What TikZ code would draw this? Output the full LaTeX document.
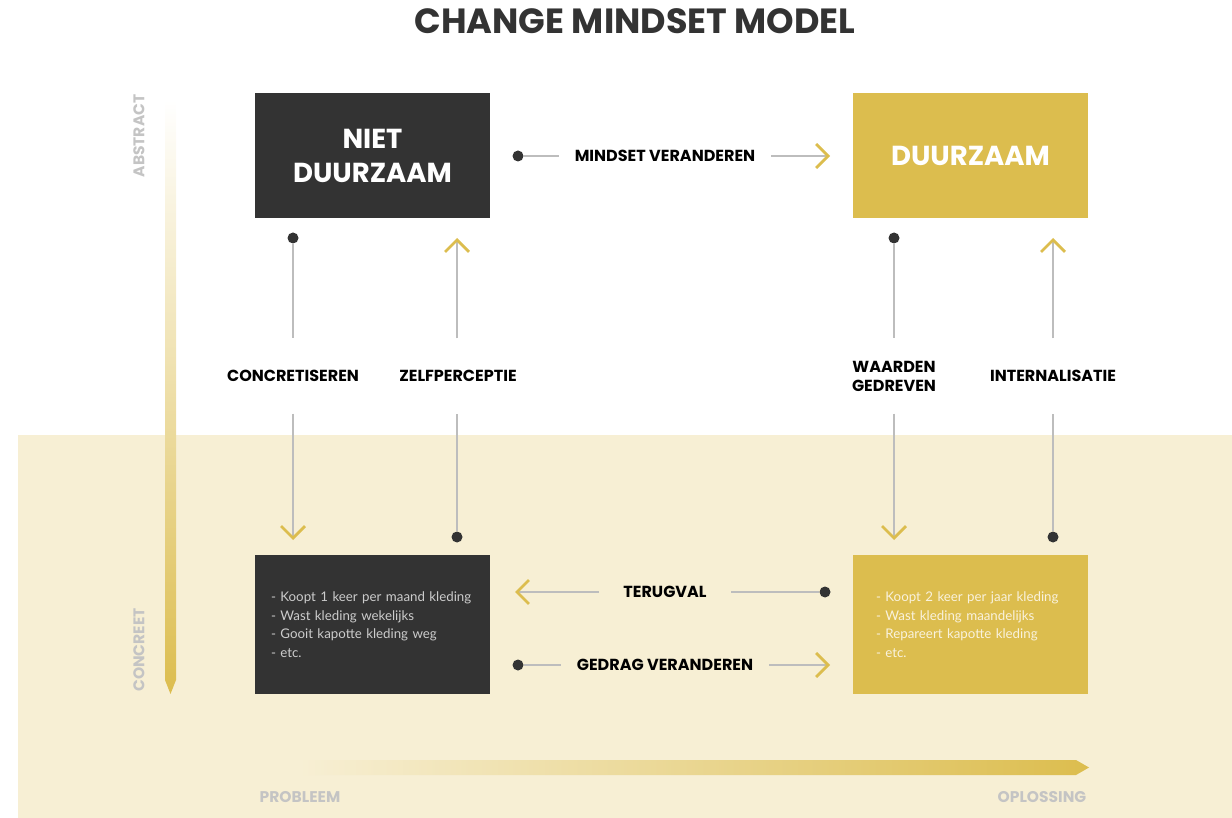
\documentclass[tikz,border=0pt]{standalone}
\usepackage{fontspec}
\setmainfont{Poppins}
\newfontfamily\listfont{Lato}
\usetikzlibrary{arrows.meta,positioning}

\definecolor{darkbox}{HTML}{333333}
\definecolor{gold}{HTML}{DCBD4E}
\definecolor{beige}{HTML}{F7EFD4}
\definecolor{axisgray}{HTML}{C4C4C4}
\definecolor{linegray}{HTML}{BDBDBD}
\newcommand\nohyphens{\hyphenpenalty=10000\relax}

\begin{document}
\begin{tikzpicture}[%
            x=1pt, y=-1pt,
            bigbox/.style={minimum width=235pt, minimum height=125pt, inner sep=0pt,
                font=\fontsize{27.5}{34}\selectfont\bfseries, align=center},
            listbox/.style={minimum width=235pt, minimum height=139pt, inner ysep=0pt,
                font=\listfont\fontsize{13.3}{18.5}\selectfont, align=left},
            steplabel/.style={font=\fontsize{16}{17}\selectfont\bfseries, text=black, align=center},
            hlabel/.style={steplabel, inner xsep=16pt},
            vlabel/.style={steplabel, minimum height=75pt, inner ysep=0pt},
            link/.style={draw=linegray, line width=1.4pt},
            chevron/.style={link, -{Straight Barb[length=12pt, width=24pt, line width=2.8pt, color=gold]}},
            mydot/.style={shape=circle, inner sep=0pt, minimum size=11pt, fill=darkbox},
            axislabel/.style={font=\fontsize{15.5}{17}\selectfont\bfseries, text=axisgray}
        ]
        \useasboundingbox (0,0) rectangle (1232,818);
        \fill[beige] (18,435) rectangle (1232,818);

        \node[font=\fontsize{35}{38}\selectfont\bfseries, text=darkbox] (title) at (635,21) {CHANGE MINDSET MODEL};

        % axes
        \shade[top color=white, middle color=gold!70, bottom color=gold]
            (165,100) -- (176,100) -- (176,680) -- (170.5,694) -- (165,680) -- cycle;
        \shade[left color=beige, middle color=gold!80, right color=gold]
            (300,760) -- (1076,760) -- (1089,767.5) -- (1076,775) -- (300,775) -- cycle;
        \node[axislabel, rotate=90] (abstract) at (139,136) {ABSTRACT};
        \node[axislabel, rotate=90] (concreet) at (139,650) {CONCREET};
        \node[axislabel] (probleem) at (300,797) {PROBLEEM};
        \node[axislabel] (oplossing) at (1042,797) {OPLOSSING};

        % boxes
        \node[bigbox, fill=darkbox, text=white] (niet) at (372.5,155.5) {NIET\\DUURZAAM};
        \node[bigbox, fill=gold, text=white] (duurzaam) at (970.5,155.5) {DUURZAAM};
        \node[listbox, fill=darkbox, text=black!20, inner xsep=16pt, text width=203pt] (nietlist) at (372.5,624.5)
            {\nohyphens - Koopt 1 keer per maand kleding\\- Wast kleding wekelijks\\- Gooit kapotte kleding weg\\- etc.};
        \node[listbox, fill=gold, text=beige!80!white, inner xsep=23pt, text width=189pt] (duurzaamlist) at (970.5,624.5)
            {\nohyphens - Koopt 2 keer per jaar kleding\\- Wast kleding maandelijks\\- Repareert kapotte kleding\\- etc.};

        % horizontal steps
        \node[mydot] (mdot) at (518,156) {};
        \node[hlabel] (mlabel) at (665,156) {MINDSET VERANDEREN};
        \coordinate (mend) at (830,156);
        \draw[link] (mdot) -- (mlabel);
        \draw[chevron] (mlabel) -- (mend);

        \node[mydot] (tdot) at (825,592) {};
        \node[hlabel, inner xsep=24pt] (tlabel) at (665,592) {TERUGVAL};
        \coordinate (tend) at (515,592);
        \draw[link] (tdot) -- (tlabel);
        \draw[chevron] (tlabel) -- (tend);

        \node[mydot] (gdot) at (518,665) {};
        \node[hlabel] (glabel) at (665,665) {GEDRAG VERANDEREN};
        \coordinate (gend) at (830,665);
        \draw[link] (gdot) -- (glabel);
        \draw[chevron] (glabel) -- (gend);

        % vertical steps
        \node[mydot] (cdot) at (293,238) {};
        \node[vlabel] (clabel) at (293,376) {CONCRETISEREN};
        \coordinate (cend) at (293,540);
        \draw[link] (cdot) -- (clabel);
        \draw[chevron] (clabel) -- (cend);

        \node[mydot] (zdot) at (457,537) {};
        \node[vlabel] (zlabel) at (458,376) {ZELFPERCEPTIE};
        \coordinate (zend) at (457,238);
        \draw[link] (zdot) -- (zdot |- zlabel.south);
        \draw[chevron] (zend |- zlabel.north) -- (zend);

        \node[mydot] (wdot) at (894,238) {};
        \node[vlabel] (wlabel) at (894,376) {WAARDEN\\[2pt]GEDREVEN};
        \coordinate (wend) at (894,540);
        \draw[link] (wdot) -- (wlabel);
        \draw[chevron] (wlabel) -- (wend);

        \node[mydot] (idot) at (1053,537) {};
        \node[vlabel] (ilabel) at (1053,376) {INTERNALISATIE};
        \coordinate (iend) at (1053,238);
        \draw[link] (idot) -- (ilabel);
        \draw[chevron] (ilabel) -- (iend);
    \end{tikzpicture}
\end{document}
